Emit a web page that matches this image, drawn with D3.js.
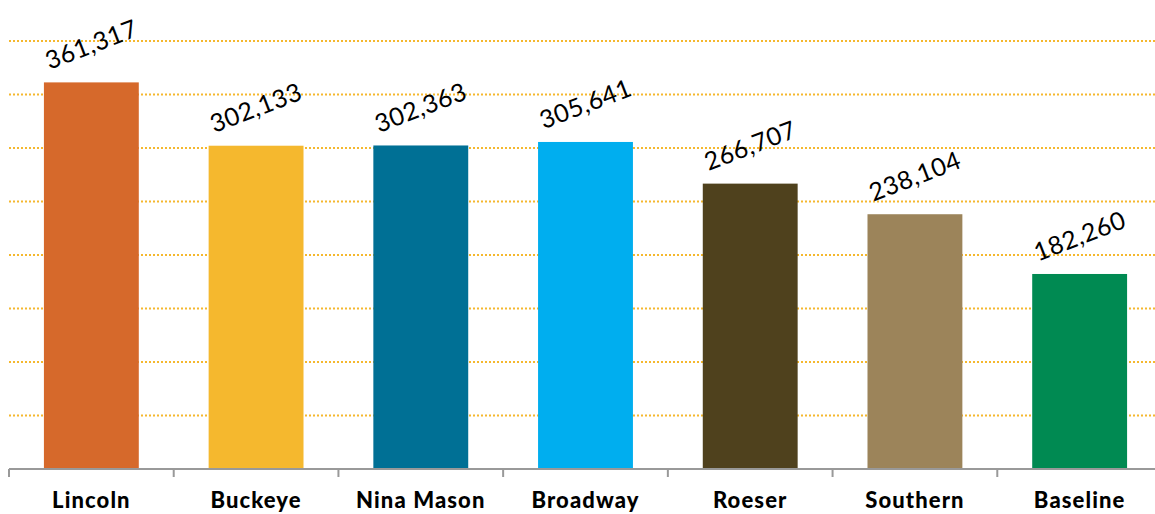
<!DOCTYPE html>
<html>
<head>
<meta charset="utf-8">
<script src="https://cdn.jsdelivr.net/npm/d3@7"></script>
<style>
  html, body { margin: 0; padding: 0; background: #fff; }
  svg { display: block; }
</style>
</head>
<body>
<svg id="chart" width="1155" height="514"></svg>
<script>
// Ridership by route
const categories = ["Lincoln", "Buckeye", "Nina Mason", "Broadway", "Roeser", "Southern", "Baseline"];
const values = [361317, 302133, 302363, 305641, 266707, 238104, 182260];
const barColors = ["#D6692B", "#F5B82E", "#007095", "#00AEEF", "#4F411D", "#9C845A", "#008A52"];
const gridTicks = [50000, 100000, 150000, 200000, 250000, 300000, 350000, 400000];

const width = 1155, height = 514;
const margin = { top: 41, right: -7, bottom: 45, left: 9 };

const svg = d3.select("#chart");

const x = d3.scaleBand()
  .domain(categories)
  .range([margin.left, width - margin.right])
  .paddingInner(0.424)
  .paddingOuter(0.212);

const y = d3.scaleLinear()
  .domain([0, 400000])
  .range([height - margin.bottom, margin.top]);

// dotted horizontal gridlines
svg.append("g")
  .selectAll("line")
  .data(gridTicks)
  .join("line")
  .attr("x1", margin.left)
  .attr("x2", width)
  .attr("y1", d => y(d))
  .attr("y2", d => y(d))
  .attr("stroke", "#F5B82E")
  .attr("stroke-width", 2)
  .attr("stroke-dasharray", "2,2");

// bars
svg.append("g")
  .selectAll("rect")
  .data(values)
  .join("rect")
  .attr("x", (d, i) => x(categories[i]))
  .attr("width", x.bandwidth())
  .attr("y", d => y(d))
  .attr("height", d => y(0) - y(d))
  .attr("fill", (d, i) => barColors[i]);

// category axis
const xAxis = d3.axisBottom(x).tickSize(0).tickPadding(0);
const gx = svg.append("g")
  .attr("transform", `translate(0,${y(0)})`)
  .call(xAxis);
gx.select(".domain").remove();
gx.selectAll(".tick text")
  .attr("dy", null)
  .attr("y", 39)
  .attr("font-family", "Lato, 'Open Sans', sans-serif")
  .attr("font-weight", "900")
  .attr("font-size", 22)
  .attr("letter-spacing", 1.1)
  .attr("fill", "#000");

// axis line with tick marks between categories
const step = x.step();
const bounds = d3.range(categories.length + 1).map(i => x(categories[0]) - x.paddingOuter() * step + i * step);
svg.append("line")
  .attr("x1", margin.left)
  .attr("x2", width)
  .attr("y1", y(0))
  .attr("y2", y(0))
  .attr("stroke", "#999")
  .attr("stroke-width", 2);
svg.append("g")
  .selectAll("line")
  .data(bounds)
  .join("line")
  .attr("x1", d => d)
  .attr("x2", d => d)
  .attr("y1", y(0))
  .attr("y2", y(0) + 8)
  .attr("stroke", "#999")
  .attr("stroke-width", 2);

// value labels, tilted
const fmt = d3.format(",");
svg.append("g")
  .selectAll("text")
  .data(values)
  .join("text")
  .attr("transform", (d, i) => `translate(${x(categories[i]) + x.bandwidth() / 2},${y(d) - 38}) rotate(-21)`)
  .attr("text-anchor", "middle")
  .attr("dy", "0.35em")
  .attr("font-family", "Lato, 'Open Sans', sans-serif")
  .attr("font-size", 25)
  .attr("letter-spacing", 0.5)
  .attr("fill", "#000")
  .text(d => fmt(d));
</script>
</body>
</html>
